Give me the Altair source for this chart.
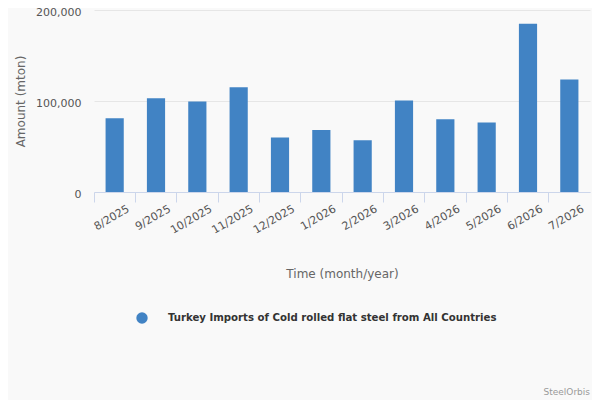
import altair as alt
import pandas as pd

# monthly imports
months = ["8/2025", "9/2025", "10/2025", "11/2025", "12/2025", "1/2026",
          "2/2026", "3/2026", "4/2026", "5/2026", "6/2026", "7/2026"]
amounts = [81000, 103000, 99500, 115000, 60000, 68000,
           57000, 100500, 80000, 76500, 185000, 123500]
series = "Turkey Imports of Cold rolled flat steel from All Countries"
credit = ["SteelOrbis"]

df = pd.DataFrame({"Time": months, "Amount": amounts, "Series": series})

font = "DejaVu Sans"

bars = (
    alt.Chart(df)
    .mark_bar(width=alt.RelativeBandSize(0.44))
    .encode(
        alt.X(
            "Time:N",
            sort=months,
            scale=alt.Scale(paddingInner=0, paddingOuter=0),
            axis=alt.Axis(
                title="Time (month/year)",
                bandPosition=0,
                labelAngle=-30,
                labelAlign="right",
                labelBaseline="middle",
                labelOffset=14,
                labelPadding=6,
                labelFontSize=11,
                labelColor="#555555",
                tickColor="#ccd6eb",
                tickSize=10,
                domainColor="#ccd6eb",
                titleFontSize=12,
                titleFontWeight="normal",
                titleColor="#666666",
                titlePadding=33,
            ),
        ),
        alt.Y(
            "Amount:Q",
            scale=alt.Scale(domain=[0, 200000]),
            axis=alt.Axis(
                title="Amount (mton)",
                values=[0, 100000, 200000],
                format=",d",
                domain=False,
                ticks=False,
                gridColor="#e6e6e6",
                labelFontSize=11,
                labelColor="#555555",
                labelPadding=13,
                labelOffset=2,
                titleFontSize=12,
                titleFontWeight="normal",
                titleColor="#666666",
                titlePadding=8,
            ),
        ),
        color=alt.Color(
            "Series:N",
            scale=alt.Scale(range=["#4183c4"]),
            legend=alt.Legend(
                title=None,
                orient="none",
                legendX=42,
                legendY=302,
                symbolType="circle",
                symbolSize=130,
                symbolStrokeWidth=0,
                labelOffset=20,
                labelLimit=0,
                labelFont="DejaVu Sans Condensed, DejaVu Sans",
                labelFontSize=11.3,
                labelFontWeight="bold",
                labelColor="#333333",
            ),
        ),
    )
)

# small credit text in the bottom right corner
credit_text = (
    alt.Chart(pd.DataFrame({"credit": credit}))
    .mark_text(align="right", baseline="middle", fontSize=9, color="#999999")
    .encode(x=alt.value(496), y=alt.value(382), text="credit:N")
)

chart = (
    alt.layer(bars, credit_text)
    .properties(
        width=496,
        height=182,
        padding={"left": 86, "top": 2, "right": 2, "bottom": 208},
        autosize=alt.AutoSizeParams(type="none"),
        background="#f9f9f9",
    )
    .configure(font=font)
    .configure_view(stroke=None)
)

chart.save("out.html", embed_options={"renderer": "svg", "actions": False})
